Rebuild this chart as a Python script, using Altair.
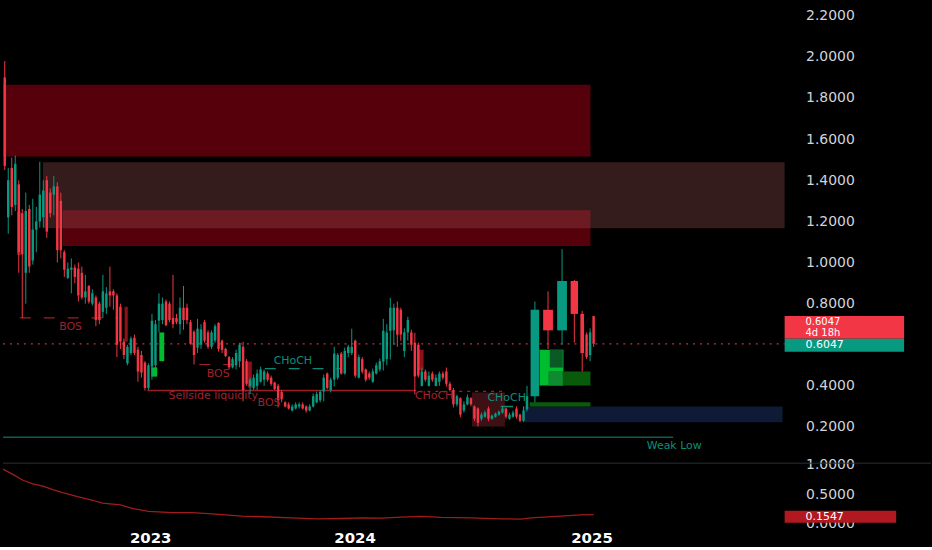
import altair as alt
import numpy as np
import pandas as pd

# ---------------- price bars (weekly; the last ones are longer bars) ----------------
opens = [1.90, 1.22, 1.46, 1.28, 1.38, 1.24, 0.95, 1.26, 1.01, 1.16,
         1.20, 1.22, 1.40, 1.34, 1.33, 1.37, 1.30, 1.05, 0.925, 0.965,
         0.975, 0.97, 0.95, 0.83, 0.886, 0.80, 0.83, 0.80, 0.76, 0.78,
         0.86, 0.86, 0.84, 0.785, 0.615, 0.51, 0.56, 0.634, 0.576, 0.55,
         0.513, 0.39, 0.494, 0.50, 0.717, 0.72, 0.81, 0.80, 0.73, 0.73,
         0.70, 0.78, 0.78, 0.71, 0.663, 0.586, 0.60, 0.71, 0.66, 0.59,
         0.62, 0.706, 0.62, 0.58, 0.54, 0.49, 0.50, 0.52, 0.59, 0.52,
         0.40, 0.39, 0.40, 0.42, 0.43, 0.46, 0.44, 0.416, 0.40, 0.37,
         0.32, 0.31, 0.28, 0.29, 0.30, 0.31, 0.30, 0.28, 0.30, 0.32,
         0.33, 0.373, 0.46, 0.38, 0.431, 0.44, 0.557, 0.46, 0.56, 0.56,
         0.62, 0.44, 0.53, 0.48, 0.46, 0.42, 0.46, 0.48, 0.518, 0.53,
         0.668, 0.67, 0.78, 0.77, 0.57, 0.66, 0.66, 0.61, 0.60, 0.40,
         0.47, 0.40, 0.46, 0.40, 0.42, 0.46, 0.47, 0.41, 0.38, 0.31,
         0.34, 0.28, 0.31, 0.34, 0.30, 0.29, 0.24, 0.25, 0.29, 0.24,
         0.25, 0.26, 0.27, 0.29, 0.24, 0.25, 0.29, 0.26, 0.23, 0.286,
         0.35, 0.77, 0.67, 0.91, 0.75, 0.65, 0.55, 0.74]
highs = [1.98, 1.46, 1.51, 1.52, 1.40, 1.26, 1.34, 1.28, 1.31, 1.27,
         1.49, 1.40, 1.42, 1.36, 1.42, 1.39, 1.34, 1.06, 1.00, 1.02,
         0.99, 1.00, 0.98, 0.94, 0.89, 0.87, 0.84, 0.81, 0.94, 0.88,
         0.98, 0.87, 0.85, 0.80, 0.63, 0.60, 0.64, 0.65, 0.59, 0.57,
         0.52, 0.51, 0.75, 0.72, 0.85, 0.83, 0.82, 0.81, 0.94, 0.75,
         0.83, 0.886, 0.80, 0.72, 0.67, 0.726, 0.70, 0.72, 0.67, 0.67,
         0.70, 0.71, 0.625, 0.585, 0.545, 0.54, 0.576, 0.61, 0.615, 0.53,
         0.44, 0.455, 0.48, 0.494, 0.48, 0.47, 0.45, 0.42, 0.41, 0.38,
         0.325, 0.32, 0.31, 0.32, 0.32, 0.32, 0.305, 0.31, 0.363, 0.373,
         0.38, 0.455, 0.465, 0.44, 0.59, 0.56, 0.565, 0.586, 0.60, 0.678,
         0.625, 0.552, 0.54, 0.484, 0.47, 0.484, 0.513, 0.533, 0.726, 0.70,
         0.828, 0.80, 0.81, 0.78, 0.68, 0.736, 0.673, 0.658, 0.61, 0.489,
         0.48, 0.47, 0.47, 0.455, 0.47, 0.47, 0.489, 0.42, 0.39, 0.358,
         0.344, 0.325, 0.358, 0.345, 0.305, 0.295, 0.27, 0.28, 0.30, 0.26,
         0.27, 0.28, 0.30, 0.295, 0.27, 0.28, 0.30, 0.265, 0.30, 0.40,
         0.81, 0.86, 1.065, 0.915, 0.765, 0.66, 0.68, 0.74]
lows = [1.45, 1.14, 1.23, 1.25, 0.95, 0.73, 0.80, 0.95, 0.99, 1.05,
        1.17, 1.17, 1.12, 1.22, 1.23, 1.00, 1.02, 0.93, 0.92, 0.85,
        0.90, 0.81, 0.82, 0.80, 0.80, 0.79, 0.69, 0.70, 0.73, 0.75,
        0.785, 0.77, 0.54, 0.58, 0.53, 0.50, 0.55, 0.55, 0.42, 0.44,
        0.377, 0.38, 0.43, 0.48, 0.66, 0.70, 0.69, 0.71, 0.68, 0.70,
        0.65, 0.673, 0.70, 0.60, 0.504, 0.56, 0.58, 0.61, 0.58, 0.58,
        0.61, 0.567, 0.56, 0.54, 0.48, 0.485, 0.48, 0.49, 0.325, 0.40,
        0.36, 0.38, 0.38, 0.416, 0.40, 0.42, 0.40, 0.38, 0.295, 0.32,
        0.295, 0.285, 0.276, 0.285, 0.29, 0.285, 0.27, 0.276, 0.295, 0.315,
        0.32, 0.325, 0.383, 0.368, 0.397, 0.43, 0.455, 0.455, 0.54, 0.55,
        0.44, 0.436, 0.46, 0.42, 0.43, 0.415, 0.455, 0.47, 0.475, 0.50,
        0.528, 0.60, 0.59, 0.62, 0.54, 0.62, 0.57, 0.358, 0.44, 0.397,
        0.42, 0.397, 0.42, 0.397, 0.40, 0.43, 0.397, 0.373, 0.295, 0.30,
        0.247, 0.27, 0.305, 0.30, 0.228, 0.203, 0.23, 0.245, 0.228, 0.235,
        0.245, 0.255, 0.265, 0.24, 0.235, 0.245, 0.24, 0.223, 0.225, 0.276,
        0.32, 0.58, 0.60, 0.61, 0.47, 0.53, 0.52, 0.59]
closes = [1.47, 1.40, 1.27, 1.48, 1.05, 1.04, 1.25, 0.98, 1.16, 1.20,
          1.33, 1.35, 1.15, 1.24, 1.37, 1.06, 1.06, 0.965, 0.97, 0.975,
          0.93, 0.84, 0.83, 0.86, 0.81, 0.85, 0.72, 0.72, 0.86, 0.85,
          0.84, 0.84, 0.60, 0.615, 0.55, 0.59, 0.63, 0.56, 0.47, 0.465,
          0.39, 0.50, 0.717, 0.70, 0.80, 0.80, 0.695, 0.72, 0.70, 0.71,
          0.78, 0.72, 0.72, 0.605, 0.55, 0.678, 0.675, 0.62, 0.59, 0.66,
          0.69, 0.58, 0.575, 0.545, 0.49, 0.53, 0.56, 0.60, 0.38, 0.41,
          0.43, 0.44, 0.46, 0.48, 0.47, 0.43, 0.41, 0.385, 0.33, 0.335,
          0.30, 0.29, 0.30, 0.31, 0.31, 0.29, 0.28, 0.30, 0.35, 0.36,
          0.37, 0.44, 0.39, 0.43, 0.557, 0.55, 0.46, 0.57, 0.59, 0.59,
          0.45, 0.54, 0.47, 0.43, 0.44, 0.47, 0.50, 0.52, 0.668, 0.66,
          0.78, 0.78, 0.649, 0.65, 0.66, 0.72, 0.60, 0.446, 0.45, 0.47,
          0.43, 0.45, 0.43, 0.44, 0.46, 0.44, 0.41, 0.38, 0.31, 0.35,
          0.26, 0.31, 0.345, 0.31, 0.24, 0.22, 0.26, 0.27, 0.24, 0.255,
          0.265, 0.275, 0.29, 0.25, 0.26, 0.27, 0.25, 0.23, 0.28, 0.35,
          0.77, 0.67, 0.91, 0.75, 0.56, 0.54, 0.66, 0.6047]
weeks = [1] * 150 + [3.5, 4, 4, 3, 1.5, 1, 1, 1]

# ---------------- lower pane indicator ----------------
ind_t = [0, 2.8, 5.7, 8.5, 11.4, 14.2, 17.0, 21.3, 25.6, 28.4, 33.5, 36.9,
         41.5, 48.3, 54.0, 59.7, 68.2, 73.9, 82.4, 89.5, 96.6, 102.3, 108.0,
         113.6, 119.3, 125.0, 133.5, 142.0, 147.7, 150.6, 159.1, 164.8, 168.5]
ind_v = [0.93, 0.84, 0.74, 0.68, 0.64, 0.58, 0.53, 0.46, 0.40, 0.35, 0.32, 0.26,
         0.21, 0.19, 0.19, 0.17, 0.13, 0.12, 0.10, 0.085, 0.09, 0.10, 0.095,
         0.115, 0.125, 0.11, 0.10, 0.085, 0.08, 0.10, 0.13, 0.15, 0.1547]

# ---------------- zones: time span (bars) and price span ----------------
zone_t0 = [0, 17, 11.4, 148.3, 133.8, 153.1, 156.0, 155.7, 155.7, 150.3, 42.3, 44.6, 4.0, 34.7, 69.9, 118.7]
zone_t1 = [167.6, 167.6, 223, 222.4, 143.2, 159.9, 159.7, 167.6, 159.7, 167.6, 44.0, 46.0, 5.1, 35.6, 71.0, 120.0]
zone_lo = [1.516, 1.080, 1.167, 0.223, 0.203, 0.402, 0.489, 0.402, 0.402, 0.300, 0.445, 0.520, 1.036, 0.615, 0.392, 0.475]
zone_hi = [1.864, 1.254, 1.487, 0.300, 0.368, 0.576, 0.576, 0.470, 0.470, 0.320, 0.490, 0.660, 1.245, 0.785, 0.518, 0.576]
zone_kind = ["supply", "supply", "premium", "demand", "range", "fvg", "ob_dark", "ob_green",
             "ob_mid", "ob_green", "fvg", "fvg", "ob_red", "ob_red", "ob_red", "ob_red"]

# ---------------- structure lines ----------------
line_t0 = [0, 41.2, 4.8, 56.0, 74.7, 118.8, 142.0]
line_t1 = [191.2, 117.9, 32.7, 66.0, 96.6, 143.5, 145.5]
line_p = [0.150, 0.378, 0.731, 0.504, 0.484, 0.373, 0.300]
line_kind = ["low", "sell", "bos", "bos", "choch_up", "choch_dn", "choch_up_solid"]

# ---------------- structure labels ----------------
label_t = [19.3, 61.4, 75.9, 60.0, 82.7, 123.0, 143.7, 191.5]
label_p = [0.688, 0.460, 0.315, 0.349, 0.523, 0.349, 0.339, 0.107]
label_text = ["BOS", "BOS", "BOS", "Sellside liquidity", "CHoCH", "CHoCH", "CHoCH", "Weak Low"]
label_side = ["dn", "dn", "dn", "dn", "up", "dn", "up", "up"]

last_price = 0.6047
countdown = "4d 18h"
last_ind = 0.1547
year_ticks = [42.0, 100.3, 167.9]
year_labels = ["2023", "2024", "2025"]

# ---------------- styling ----------------
UP, DOWN = "#089981", "#f23645"
ZONE_STYLE = {
    "supply": ("#55000b", 1.0), "premium": ("#a25457", 0.32), "demand": ("#0f1b36", 1.0),
    "range": ("#3d1015", 1.0), "fvg": ("#00bd2f", 1.0), "ob_dark": ("#0b5a25", 1.0),
    "ob_green": ("#0a5a0c", 1.0), "ob_mid": ("#0e8a30", 1.0), "ob_red": ("#8e1119", 1.0),
}
LINE_STYLE = {
    "low": ("#0d5e55", "solid"), "sell": ("#9c1c27", "solid"), "bos": ("#a01e2a", "dash"),
    "choch_up": ("#0a8a76", "dash"), "choch_dn": ("#a01e2a", "dot"), "choch_up_solid": ("#0a8a76", "solid"),
}
LABEL_COLOR = {"dn": "#a3202c", "up": "#0b8f7b"}
FONT = "DejaVu Sans"
PLOT_W, TOP_H, LOW_H = 785, 464, 65

X_SCALE = alt.Scale(domain=[0, 223], nice=False, zero=False, padding=0)
P_SCALE = alt.Scale(domain=[0.024, 2.271], nice=False, zero=False, padding=0)
I_SCALE = alt.Scale(domain=[-0.07, 1.03], nice=False, zero=False, padding=0)

price_axis = alt.Axis(orient="right", values=[0.2, 0.4, 0.8, 1.0, 1.2, 1.4, 1.6, 1.8, 2.0, 2.2],
                      format=".4f", labelColor="#d1d4dc", labelFont=FONT, labelFontSize=14,
                      labelPadding=21, labelAlign="left", domain=False, ticks=False, grid=False)
ind_axis = alt.Axis(orient="right", values=[0, 0.5, 1.0], format=".4f", labelColor="#d1d4dc",
                    labelFont=FONT, labelFontSize=14, labelPadding=21, labelAlign="left",
                    domain=False, ticks=False, grid=False)
year_expr = " : ".join(f"datum.value < {v + 1} ? '{s}'" for v, s in zip(year_ticks[:-1], year_labels[:-1]))
year_expr = f"{year_expr} : '{year_labels[-1]}'"
time_axis = alt.Axis(values=year_ticks, labelExpr=year_expr, labelColor="#ffffff", labelFont=FONT,
                     labelFontSize=15, labelFontWeight="bold", labelPadding=3,
                     domain=False, ticks=False, grid=False)


def px(field):
    return alt.X(field, type="quantitative", scale=X_SCALE, axis=None, title=None)


def py(field):
    return alt.Y(field, type="quantitative", scale=P_SCALE, axis=price_axis, title=None)


# ---------------- tables ----------------
w = np.array(weeks, dtype=float)
t1 = np.cumsum(w)
t0 = t1 - w
bars = pd.DataFrame({"open": opens, "high": highs, "low": lows, "close": closes, "t0": t0, "t1": t1})
bars["mid"] = (bars.t0 + bars.t1) / 2
bars["b0"] = bars.t0 + 0.15 * w
bars["b1"] = bars.t1 - 0.15 * w
bars["col"] = np.where(bars.close >= bars.open, UP, DOWN)

zones = pd.DataFrame({"t0": zone_t0, "t1": zone_t1, "lo": zone_lo, "hi": zone_hi, "kind": zone_kind})
zones["fill"] = zones.kind.map(lambda k: ZONE_STYLE[k][0])
zones["alpha"] = zones.kind.map(lambda k: ZONE_STYLE[k][1])

lines = pd.DataFrame({"t0": line_t0, "t1": line_t1, "p": line_p, "kind": line_kind})
lines["col"] = lines.kind.map(lambda k: LINE_STYLE[k][0])
lines["style"] = lines.kind.map(lambda k: LINE_STYLE[k][1])

labels = pd.DataFrame({"t": label_t, "p": label_p, "text": label_text, "side": label_side})
labels["col"] = labels.side.map(LABEL_COLOR)

last = pd.DataFrame({"p": [last_price], "t0": [0], "t1": [223],
                     "price_txt": [f"{last_price:.4f}"], "cd": [countdown]})
ind = pd.DataFrame({"t": ind_t, "v": ind_v})
ind_last = pd.DataFrame({"v": [last_ind], "txt": [f"{last_ind:.4f}"]})

# ---------------- price pane ----------------
zone_layer = alt.Chart(zones).mark_rect().encode(
    x=px("t0"), x2="t1", y=py("lo"), y2="hi",
    color=alt.Color("fill:N", scale=None), opacity=alt.Opacity("alpha:Q", scale=None))

line_layers = []
for style, dash, width in [("solid", [1, 0], 1.5), ("dash", [11, 13], 1.2), ("dot", [3, 5], 1.2)]:
    line_layers.append(
        alt.Chart(lines).transform_filter(alt.datum.style == style)
        .mark_rule(strokeWidth=width, strokeDash=dash)
        .encode(x=px("t0"), x2="t1", y=py("p"), color=alt.Color("col:N", scale=None)))

price_line = alt.Chart(last).mark_rule(strokeWidth=1.2, strokeDash=[2, 5], color="#c0303c").encode(
    x=px("t0"), x2="t1", y=py("p"))

wicks = alt.Chart(bars).mark_rule(strokeWidth=1).encode(
    x=px("mid"), y=py("low"), y2="high", color=alt.Color("col:N", scale=None))
bodies = alt.Chart(bars).mark_rect().encode(
    x=px("b0"), x2="b1", y=py("open"), y2="close", color=alt.Color("col:N", scale=None))

label_layer = alt.Chart(labels).mark_text(font=FONT, fontSize=11, align="center", baseline="middle").encode(
    x=px("t"), y=py("p"), text="text:N", color=alt.Color("col:N", scale=None))

# last price tags in the axis gutter
tag_red = alt.Chart(last).mark_rect(color="#f23645", yOffset=-28, y2Offset=-5).encode(
    x=alt.value(785), x2=alt.value(905), y=py("p"), y2="p")
tag_green = alt.Chart(last).mark_rect(color="#089981", yOffset=-5, y2Offset=8).encode(
    x=alt.value(785), x2=alt.value(905), y=py("p"), y2="p")
tag_txt1 = alt.Chart(last).mark_text(font=FONT, fontSize=10, align="left", baseline="middle",
                                     color="#ffffff", dy=-22).encode(
    x=alt.value(806), y=py("p"), text="price_txt:N")
tag_txt2 = alt.Chart(last).mark_text(font=FONT, fontSize=10, align="left", baseline="middle",
                                     color="#ffffff", dy=-11).encode(
    x=alt.value(806), y=py("p"), text="cd:N")
tag_txt3 = alt.Chart(last).mark_text(font=FONT, fontSize=11, align="left", baseline="middle",
                                     color="#ffffff", dy=1.5).encode(
    x=alt.value(806), y=py("p"), text="price_txt:N")

price_pane = alt.layer(
    zone_layer, *line_layers, price_line, wicks, bodies, label_layer,
    tag_red, tag_green, tag_txt1, tag_txt2, tag_txt3
).properties(width=PLOT_W, height=TOP_H)

# ---------------- indicator pane ----------------
sep = alt.Chart(ind_last).mark_rule(color="#2a2e39", strokeWidth=1).encode(
    x=alt.value(0), x2=alt.value(932), y=alt.value(0))
ind_line = alt.Chart(ind).mark_line(color="#a01c1c", strokeWidth=1.3).encode(
    x=alt.X("t:Q", scale=X_SCALE, axis=time_axis, title=None),
    y=alt.Y("v:Q", scale=I_SCALE, axis=ind_axis, title=None))
ind_tag = alt.Chart(ind_last).mark_rect(color="#b2181f", yOffset=-4, y2Offset=8).encode(
    x=alt.value(785), x2=alt.value(897), y=alt.Y("v:Q", scale=I_SCALE, axis=ind_axis, title=None), y2="v")
ind_tag_txt = alt.Chart(ind_last).mark_text(font=FONT, fontSize=11, align="left", baseline="middle",
                                            color="#ffffff", dy=2).encode(
    x=alt.value(806), y=alt.Y("v:Q", scale=I_SCALE, axis=ind_axis, title=None), text="txt:N")

ind_pane = alt.layer(sep, ind_line, ind_tag, ind_tag_txt).properties(width=PLOT_W, height=LOW_H)

chart = alt.vconcat(price_pane, ind_pane, spacing=0).properties(
    padding=0, bounds="flush"
).configure(background="#000000").configure_view(stroke=None)

chart.save("out.html", embed_options={"renderer": "svg", "actions": False})
